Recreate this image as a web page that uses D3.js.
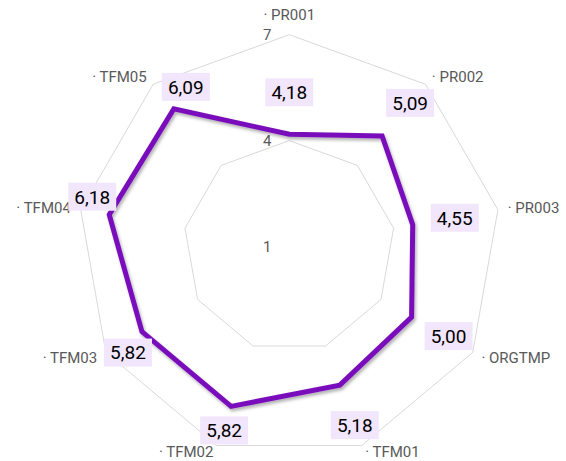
<!DOCTYPE html>
<html>
<head>
<meta charset="utf-8">
<script src="https://cdn.jsdelivr.net/npm/d3@7"></script>
<style>
  body { margin: 0; background: #fff; }
  svg { font-family: Roboto, "Open Sans", sans-serif; }
</style>
</head>
<body>
<svg id="chart"></svg>
<script>
// chart data
var categories = ["PR001", "PR002", "PR003", "ORGTMP", "TFM01", "TFM02", "TFM03", "TFM04", "TFM05"];
var values = [4.18, 5.09, 4.55, 5.00, 5.18, 5.82, 5.82, 6.18, 6.09];
var tickValues = [1, 4, 7];

// label nudges (dx, dy from the data point), excel moved these around
var labelNudge = [[0, -42], [28, -33], [42, -7], [37, 19], [15, 40], [-7, 24], [-14, 21], [-17, -18], [12, -22]];

var width = 566, height = 461;
var cx = 289.3, cy = 246.5, outerR = 211.8;
var lineColor = "#7A0EBB";
var labelBg = "#F2E6FC";

var svg = d3.select("#chart")
  .attr("width", width)
  .attr("height", height);

var defs = svg.append("defs");
var shadow = defs.append("filter").attr("id", "shadow")
  .attr("x", "-10%").attr("y", "-10%").attr("width", "130%").attr("height", "130%");
shadow.append("feDropShadow")
  .attr("dx", 1.5).attr("dy", 2.5).attr("stdDeviation", 1.8)
  .attr("flood-color", "#000").attr("flood-opacity", 0.3);

var r = d3.scaleLinear().domain([1, 7]).range([0, outerR]);
var angle = d3.scaleBand().domain(categories).range([0, 2 * Math.PI]).align(0).paddingInner(0).paddingOuter(0);

function ang(c) { return angle(c) - Math.PI / 2; }
function pt(c, v) {
  var a = ang(c);
  return [cx + r(v) * Math.cos(a), cy + r(v) * Math.sin(a)];
}

var g = svg.append("g");

// grid polygons
var line = d3.line().curve(d3.curveLinearClosed);
g.selectAll("path.grid")
  .data(tickValues.filter(function (t) { return t > 1; }))
  .enter().append("path")
  .attr("class", "grid")
  .attr("d", function (t) {
    return line(categories.map(function (c) { return pt(c, t); }));
  })
  .attr("fill", "none")
  .attr("stroke", "#D9D9D9")
  .attr("stroke-width", 1);

// tick labels
g.selectAll("text.tick")
  .data(tickValues)
  .enter().append("text")
  .attr("class", "tick")
  .attr("x", cx - 22)
  .attr("y", function (t) { return cy - r(t); })
  .attr("dy", "0.36em")
  .attr("text-anchor", "middle")
  .attr("font-size", 15)
  .attr("fill", "#595959")
  .text(function (t) { return t; });

// category labels
g.selectAll("text.cat")
  .data(categories)
  .enter().append("text")
  .attr("class", "cat")
  .each(function (c) {
    var a = ang(c), cs = Math.cos(a), sn = Math.sin(a);
    var x = cx + (outerR + 10) * cs, y = cy + (outerR + 10) * sn;
    var anchor = Math.abs(cs) < 0.1 ? "middle" : (cs > 0 ? "start" : "end");
    var el = d3.select(this)
      .attr("x", x)
      .attr("text-anchor", anchor);
    if (Math.abs(cs) < 0.1 && sn < 0) {
      el.attr("y", y - 5);
    } else {
      // keep bottom labels inside the window
      el.attr("y", Math.min(y, 451.5)).attr("dy", "0.36em");
    }
  })
  .attr("font-size", 15)
  .attr("fill", "#595959")
  .text(function (c) { return "· " + c; });

// data line
g.append("path")
  .datum(values)
  .attr("d", line(categories.map(function (c, i) { return pt(c, values[i]); })))
  .attr("fill", "none")
  .attr("stroke", lineColor)
  .attr("stroke-width", 5)
  .attr("stroke-linejoin", "miter")
  .attr("filter", "url(#shadow)");

// data labels
var fmt = function (v) { return d3.format(".2f")(v).replace(".", ","); };
var lab = g.selectAll("g.dlabel")
  .data(values)
  .enter().append("g")
  .attr("class", "dlabel")
  .attr("transform", function (v, i) {
    var p = pt(categories[i], v);
    return "translate(" + (p[0] + labelNudge[i][0]) + "," + (p[1] + labelNudge[i][1]) + ")";
  });
lab.append("rect")
  .attr("x", -24).attr("y", -14)
  .attr("width", 48).attr("height", 28)
  .attr("fill", labelBg);
lab.append("text")
  .attr("text-anchor", "middle")
  .attr("dy", "0.36em")
  .attr("font-size", 19)
  .attr("fill", "#000")
  .text(fmt);
</script>
</body>
</html>
